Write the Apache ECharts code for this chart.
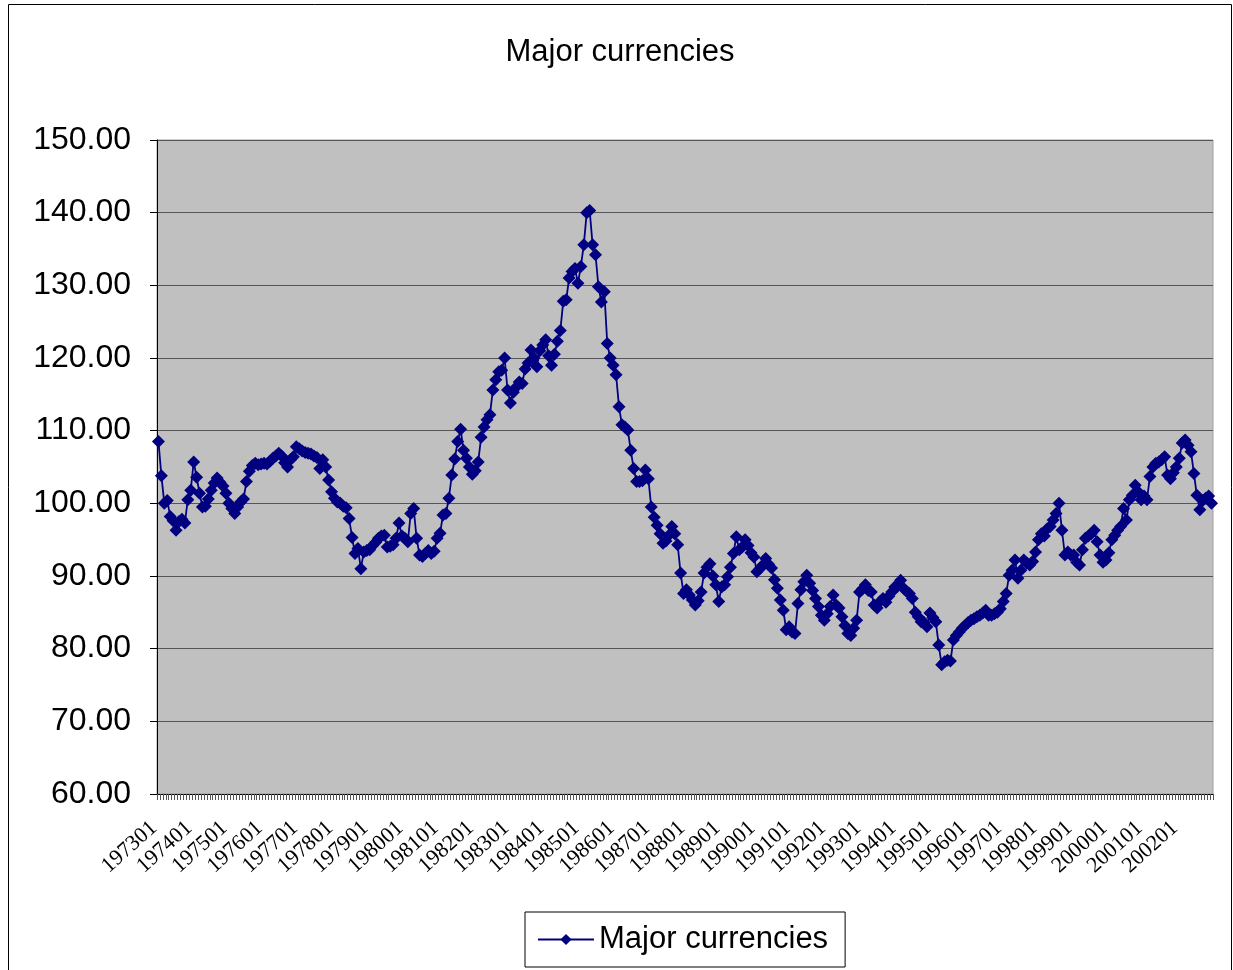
<!DOCTYPE html>
<html>
<head>
<meta charset="utf-8">
<script src="https://cdn.jsdelivr.net/npm/echarts@6/dist/echarts.min.js"></script>
<style>
html,body{margin:0;padding:0;background:#fff;}
#chart{width:1233px;height:970px;}
</style>
</head>
<body>
<div id="chart"></div>
<script>
// Monthly index values, one array per year
var y1973 = [108.5, 103.8, 100.0, 100.4, 98.2, 97.6, 96.3, 97.5, 97.8, 97.3, 100.5, 101.8];
var y1974 = [105.7, 103.6, 101.4, 99.5, 99.6, 100.6, 101.8, 102.8, 103.5, 102.9, 102.4, 101.4];
var y1975 = [100.0, 99.3, 98.6, 99.5, 100.2, 100.6, 103.0, 104.4, 105.2, 105.5, 105.3, 105.4];
var y1976 = [105.5, 105.4, 105.8, 106.2, 106.5, 106.9, 106.5, 105.6, 105.0, 106.0, 106.4, 107.8];
var y1977 = [107.5, 107.2, 107.0, 106.9, 106.8, 106.5, 106.3, 104.8, 106.0, 105.0, 103.2, 101.6];
var y1978 = [100.7, 100.2, 100.0, 99.6, 99.4, 97.9, 95.3, 93.1, 93.8, 91.0, 93.3, 93.5];
var y1979 = [93.6, 94.2, 94.6, 95.2, 95.5, 95.6, 94.0, 94.1, 94.3, 95.2, 97.3, 95.5];
var y1980 = [95.2, 94.7, 98.6, 99.3, 95.2, 92.9, 92.7, 93.1, 93.5, 93.1, 93.4, 95.2];
var y1981 = [95.9, 98.4, 98.6, 100.7, 103.9, 106.1, 108.5, 110.2, 107.3, 106.2, 105.0, 104.0];
var y1982 = [104.5, 105.7, 109.1, 110.5, 111.5, 112.2, 115.6, 117.0, 118.1, 118.3, 120.0, 115.6];
var y1983 = [113.8, 115.3, 116.0, 116.7, 116.5, 118.5, 119.3, 121.1, 120.0, 118.8, 121.0, 121.8];
var y1984 = [122.5, 120.3, 119.0, 120.5, 122.3, 123.8, 127.8, 128.0, 131.0, 131.9, 132.3, 130.3];
var y1985 = [132.6, 135.6, 140.0, 140.3, 135.6, 134.2, 129.8, 127.7, 129.1, 122.0, 120.0, 119.0];
var y1986 = [117.7, 113.3, 110.8, 110.5, 110.1, 107.3, 104.8, 103.0, 103.0, 103.1, 104.6, 103.4];
var y1987 = [99.5, 98.1, 97.0, 95.8, 94.5, 94.8, 95.6, 96.8, 95.8, 94.3, 90.4, 87.6];
var y1988 = [88.1, 87.4, 86.7, 86.0, 86.6, 87.8, 90.4, 91.2, 91.7, 90.0, 88.8, 86.5];
var y1989 = [88.5, 88.8, 89.9, 91.2, 93.1, 95.4, 93.6, 94.0, 95.0, 94.2, 93.2, 92.6];
var y1990 = [90.6, 91.0, 91.5, 92.4, 91.6, 91.1, 89.5, 88.3, 86.7, 85.3, 82.6, 83.0];
var y1991 = [82.3, 82.1, 86.2, 88.1, 89.2, 90.1, 89.0, 88.0, 86.9, 85.8, 84.6, 83.9];
var y1992 = [84.8, 85.8, 87.4, 86.0, 85.6, 84.4, 83.2, 82.1, 81.8, 82.8, 83.9, 87.8];
var y1993 = [88.2, 88.8, 88.0, 87.8, 86.0, 85.6, 86.5, 86.9, 86.4, 87.2, 87.8, 88.5];
var y1994 = [88.6, 89.4, 88.3, 87.9, 87.6, 86.9, 85.0, 84.4, 83.7, 83.6, 83.0, 84.9];
var y1995 = [84.3, 83.7, 80.5, 77.8, 78.2, 78.4, 78.3, 81.2, 81.8, 82.3, 82.8, 83.2];
var y1996 = [83.6, 83.9, 84.1, 84.4, 84.6, 84.9, 85.3, 84.6, 84.6, 84.8, 85.0, 85.5];
var y1997 = [86.5, 87.6, 90.1, 90.8, 92.2, 89.7, 90.8, 92.2, 91.8, 91.5, 92.0, 93.3];
var y1998 = [95.0, 95.8, 95.5, 96.5, 96.8, 97.7, 98.6, 100.0, 96.3, 92.9, 93.3, 92.9];
var y1999 = [92.9, 91.9, 91.5, 93.6, 95.2, 95.5, 95.8, 96.3, 94.7, 92.9, 91.9, 92.2];
var y2000 = [93.2, 95.0, 95.6, 96.3, 96.8, 99.3, 97.7, 100.5, 101.1, 102.5, 101.6, 100.5];
var y2001 = [101.0, 100.5, 103.7, 105.0, 105.5, 105.7, 106.0, 106.4, 103.9, 103.4, 104.2, 105.0];
var y2002 = [106.2, 108.3, 108.7, 108.0, 107.1, 104.1, 101.1, 99.1, 100.4, 100.7, 101.0, 100.0];

var yearArrays = [y1973,y1974,y1975,y1976,y1977,y1978,y1979,y1980,y1981,y1982,
  y1983,y1984,y1985,y1986,y1987,y1988,y1989,y1990,y1991,y1992,
  y1993,y1994,y1995,y1996,y1997,y1998,y1999,y2000,y2001,y2002];
var firstYear = 1973;
var months = ['01','02','03','04','05','06','07','08','09','10','11','12'];
var yTicks = [60, 70, 80, 90, 100, 110, 120, 130, 140, 150];
var seriesName = 'Major currencies';

var categories = [];
var values = [];
yearArrays.forEach(function (arr, k) {
  arr.forEach(function (v, m) {
    categories.push(String(firstYear + k) + months[m]);
    values.push(v);
  });
});

var chart = echarts.init(document.getElementById('chart'), null, {renderer: 'canvas'});
chart.setOption({
  animation: false,
  backgroundColor: '#ffffff',
  title: {
    text: seriesName,
    left: 615,
    top: 32,
    textAlign: 'center',
    textStyle: {fontFamily: 'Liberation Sans', fontSize: 31, fontWeight: 'normal', color: '#000'}
  },
  graphic: [{
    type: 'rect',
    shape: {x: 8.5, y: 4.5, width: 1223, height: 980},
    style: {fill: 'none', stroke: '#000', lineWidth: 1},
    silent: true, z: -1
  }],
  legend: {
    left: 525,
    top: 912,
    data: [seriesName],
    orient: 'horizontal',
    borderColor: '#000',
    borderWidth: 1,
    padding: [12, 17, 12, 12],
    itemWidth: 56,
    itemHeight: 14,
    itemGap: 6,
    textStyle: {fontFamily: 'Liberation Sans', fontSize: 31, color: '#000'}
  },
  grid: {
    left: 157, top: 140, width: 1056, height: 654,
    show: true, backgroundColor: '#c0c0c0', borderColor: '#a0a0a0', borderWidth: 1,
    containLabel: false
  },
  xAxis: {
    type: 'category',
    data: categories,
    boundaryGap: true,
    axisLine: {show: true, lineStyle: {color: '#000', width: 1}},
    axisTick: {show: true, interval: 0, length: 6, lineStyle: {color: '#555', width: 1}},
    axisLabel: {
      interval: 11, rotate: 42, margin: 27,
      padding: [0, 6, 0, 0],
      fontFamily: 'Liberation Serif', fontSize: 22, color: '#000'
    },
    splitLine: {show: false}
  },
  yAxis: {
    type: 'value',
    min: yTicks[0], max: yTicks[yTicks.length - 1], interval: 10,
    axisLine: {show: true, lineStyle: {color: '#000', width: 1}},
    axisTick: {show: true, length: 7, lineStyle: {color: '#000'}},
    axisLabel: {
      margin: 26,
      formatter: function (v) { return v.toFixed(2); },
      fontFamily: 'Liberation Sans', fontSize: 32, color: '#000'
    },
    splitLine: {show: true, lineStyle: {color: '#555', width: 1}}
  },
  series: [{
    name: seriesName,
    type: 'line',
    data: values,
    symbol: 'diamond',
    symbolSize: 13,
    showAllSymbol: true,
    itemStyle: {color: '#000080'},
    lineStyle: {color: '#000080', width: 1.8}
  }]
});
</script>
</body>
</html>
